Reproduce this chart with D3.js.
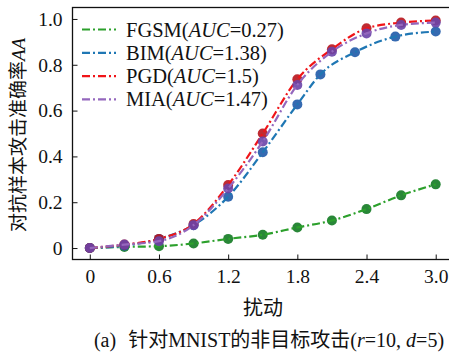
<!DOCTYPE html>
<html>
<head>
<meta charset="utf-8">
<script src="https://cdn.jsdelivr.net/npm/d3@7"></script>
<style>
  body { margin: 0; background: #fff; }
  svg { display: block; }
  text { font-family: "Liberation Serif", "Noto Sans CJK SC", serif; fill: #111; }
</style>
</head>
<body>
<div id="chart"></div>
<script>
// values
var xStd = [0, 0.3, 0.6, 0.9, 1.2, 1.5, 1.8, 2.1, 2.4, 2.7, 3.0];
var xBim = [0, 0.3, 0.6, 0.9, 1.2, 1.5, 1.8, 2.0, 2.3, 2.65, 3.0];
var fgsm = [0, 0.005, 0.008, 0.02, 0.04, 0.058, 0.09, 0.12, 0.17, 0.23, 0.278];
var bim  = [0, 0.01, 0.04, 0.1, 0.224, 0.418, 0.627, 0.758, 0.855, 0.923, 0.945];
var pgd  = [0, 0.015, 0.04, 0.105, 0.275, 0.5, 0.737, 0.868, 0.959, 0.984, 0.993];
var mia  = [0, 0.015, 0.03, 0.1, 0.26, 0.465, 0.712, 0.857, 0.937, 0.974, 0.984];
var names = ["FGSM", "BIM", "PGD", "MIA"];
var aucs = ["0.27", "1.38", "1.5", "1.47"];
var xTicks = [0, 0.6, 1.2, 1.8, 2.4, 3.0];
var yTicks = [0, 0.2, 0.4, 0.6, 0.8, 1.0];

var lineColors = ["#2ca02c", "#1f77b4", "#f01418", "#9467bd"];
var dotColors = ["#127a22", "#1f5aa8", "#b8141c", "#6a44a8"];

var series = [
  {name: names[0], auc: aucs[0], xs: xStd, ys: fgsm},
  {name: names[1], auc: aucs[1], xs: xBim, ys: bim},
  {name: names[2], auc: aucs[2], xs: xStd, ys: pgd},
  {name: names[3], auc: aucs[3], xs: xStd, ys: mia}
];

var width = 449, height = 354;

var x = d3.scaleLinear().domain([-0.15, 3.15]).range([72.5, 453]);
var y = d3.scaleLinear().domain([-0.05, 1.05]).range([259.5, 7.5]);

var svg = d3.select("#chart").append("svg")
  .attr("width", width)
  .attr("height", height);

// frame
svg.append("rect")
  .attr("x", x.range()[0]).attr("y", y.range()[1])
  .attr("width", x.range()[1] - x.range()[0])
  .attr("height", y.range()[0] - y.range()[1])
  .attr("fill", "none").attr("stroke", "#111").attr("stroke-width", 1.3);

var xAxis = svg.append("g")
  .attr("transform", "translate(0," + y.range()[0] + ")")
  .call(d3.axisBottom(x).tickValues(xTicks)
    .tickFormat(function(d) { return d === 0 ? "0" : d3.format(".1f")(d); })
    .tickSize(-5).tickPadding(10));
xAxis.select(".domain").remove();
xAxis.selectAll("text").attr("font-size", "19.5px").attr("fill", "#111");
xAxis.selectAll("line").attr("stroke", "#111");

var yAxis = svg.append("g")
  .attr("transform", "translate(" + x.range()[0] + ",0)")
  .call(d3.axisLeft(y).tickValues(yTicks)
    .tickFormat(function(d) { return d === 0 ? "0" : d3.format(".1f")(d); })
    .tickSize(-5).tickPadding(10));
yAxis.select(".domain").remove();
yAxis.selectAll("text").attr("font-size", "19.5px").attr("fill", "#111");
yAxis.selectAll("line").attr("stroke", "#111");

var line = d3.line()
  .x(function(d) { return x(d[0]); })
  .y(function(d) { return y(d[1]); })
  .curve(d3.curveMonotoneX);

series.forEach(function(s, i) {
  var pts = s.xs.map(function(v, j) { return [v, s.ys[j]]; });
  var g = svg.append("g");
  g.selectAll("circle")
    .data(pts)
    .enter().append("circle")
    .attr("cx", function(d) { return x(d[0]); })
    .attr("cy", function(d) { return y(d[1]); })
    .attr("r", 5)
    .attr("fill", dotColors[i])
    .attr("opacity", 0.9);
  g.append("path")
    .attr("d", line(pts))
    .attr("fill", "none")
    .attr("stroke", lineColors[i])
    .attr("stroke-width", 2.2)
    .attr("stroke-dasharray", "8,3,2,3");
});

// legend
var leg = svg.append("g");
series.forEach(function(s, i) {
  var cy = 29.5 + i * 23.3;
  leg.append("line")
    .attr("x1", 82).attr("x2", 116).attr("y1", cy).attr("y2", cy)
    .attr("stroke", lineColors[i]).attr("stroke-width", 2.2)
    .attr("stroke-dasharray", "8,3,2,3");
  var t = leg.append("text")
    .attr("x", 126).attr("y", cy + 7)
    .attr("font-size", "20.5px");
  t.append("tspan").text(s.name + "(");
  t.append("tspan").attr("font-style", "italic").text("AUC");
  t.append("tspan").text("=" + s.auc + ")");
});

// axis titles
var yl = svg.append("text")
  .attr("transform", "translate(25,135) rotate(-90)")
  .attr("text-anchor", "middle")
  .attr("font-size", "19px");
yl.append("tspan").text("对抗样本攻击准确率");
yl.append("tspan").attr("font-style", "italic").text("AA");

svg.append("text")
  .attr("x", 263).attr("y", 315)
  .attr("text-anchor", "middle")
  .attr("font-size", "20px")
  .text("扰动");

var cap = svg.append("text")
  .attr("x", 269).attr("y", 347)
  .attr("text-anchor", "middle")
  .attr("font-size", "20px");
cap.append("tspan").text("(a)");
cap.append("tspan").attr("dx", 12).text("针对MNIST的非目标攻击(");
cap.append("tspan").attr("font-style", "italic").text("r");
cap.append("tspan").text("=10, ");
cap.append("tspan").attr("font-style", "italic").text("d");
cap.append("tspan").text("=5)");
</script>
</body>
</html>
